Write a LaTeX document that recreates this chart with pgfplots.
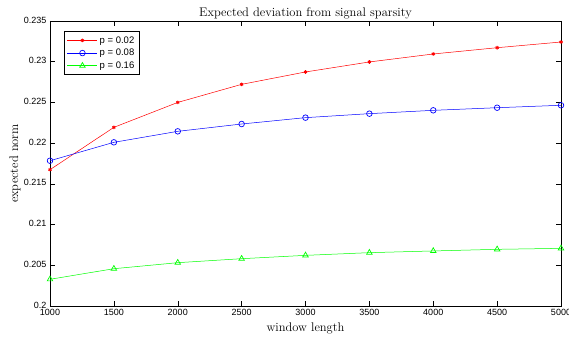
\documentclass[border=0pt]{standalone}
\usepackage{fontspec}
\usepackage{pgfplots}
\pgfplotsset{compat=1.18}
\newfontfamily\hv{Liberation Sans}
\begin{document}
\begin{tikzpicture}[x=1pt,y=1pt]
\begin{axis}[name=ax,
  scale only axis, width=511pt, height=285pt,
  xmin=1000, xmax=5000, ymin=0.2, ymax=0.235,
  xtick={1000,1500,...,5000},
  ytick={0.2,0.205,0.21,0.215,0.22,0.225,0.23,0.235},
  yticklabels={0.2,0.205,0.21,0.215,0.22,0.225,0.23,0.235},
  scaled y ticks=false,
  xticklabel style={font=\hv\fontsize{9}{10}\selectfont, /pgf/number format/1000 sep={}, yshift=0.5pt},
  yticklabel style={font=\hv\fontsize{9}{10}\selectfont, yshift=1pt},
  /pgf/number format/assume math mode=true,
  tick align=inside, tick pos=both,
  major tick length=5pt,
  every tick/.style={black, line width=0.5pt},
  axis line style={line width=0.7pt},
  title={Expected deviation from signal sparsity},
  title style={font=\fontsize{12.5}{14}\selectfont, yshift=-8pt},
  xlabel={window length}, ylabel={expected norm},
  xlabel style={font=\fontsize{12.5}{14}\selectfont, at={(axis description cs:0.5,0)}, anchor=north, yshift=-13pt},
  ylabel style={font=\fontsize{12.5}{14}\selectfont, at={(axis description cs:0,0.5)}, anchor=center, yshift=35pt},
  legend style={font=\hv\fontsize{9.5}{10}\selectfont, at={(0.027,0.965)}, anchor=north west, line width=0.8pt, row sep=0.5pt, inner sep=3pt, draw=black},
  legend image code/.code={\draw[mark repeat=2,mark phase=2] plot coordinates {(0pt,0pt) (15pt,0pt) (30pt,0pt)};},
  legend cell align=left,
]
\addplot[red, line width=0.5pt, mark=asterisk, mark size=1.8pt, mark options={red, solid, line width=0.9pt}] coordinates {
(1000,0.21674) (1500,0.22194) (2000,0.22500) (2500,0.22722) (3000,0.22874)
(3500,0.22997) (4000,0.23095) (4500,0.23172) (5000,0.23242)};
\addplot[blue, line width=0.5pt, mark=o, mark size=2.8pt, mark options={draw=blue, solid, line width=0.7pt}] coordinates {
(1000,0.21784) (1500,0.22010) (2000,0.22145) (2500,0.22235) (3000,0.22313)
(3500,0.22362) (4000,0.22403) (4500,0.22435) (5000,0.22465)};
\addplot[green, line width=0.5pt, mark=triangle, mark size=3.2pt, mark options={draw=green, solid, line width=0.7pt}] coordinates {
(1000,0.20328) (1500,0.20458) (2000,0.20532) (2500,0.20581) (3000,0.20622)
(3500,0.20655) (4000,0.20676) (4500,0.20696) (5000,0.20708)};
\legend{p = 0.02, p = 0.08, p = 0.16}
\end{axis}
\pgfresetboundingbox
\useasboundingbox ([shift={(-50pt,-33pt)}]ax.south west) rectangle ([shift={(8pt,21pt)}]ax.north east);
\end{tikzpicture}
\end{document}
